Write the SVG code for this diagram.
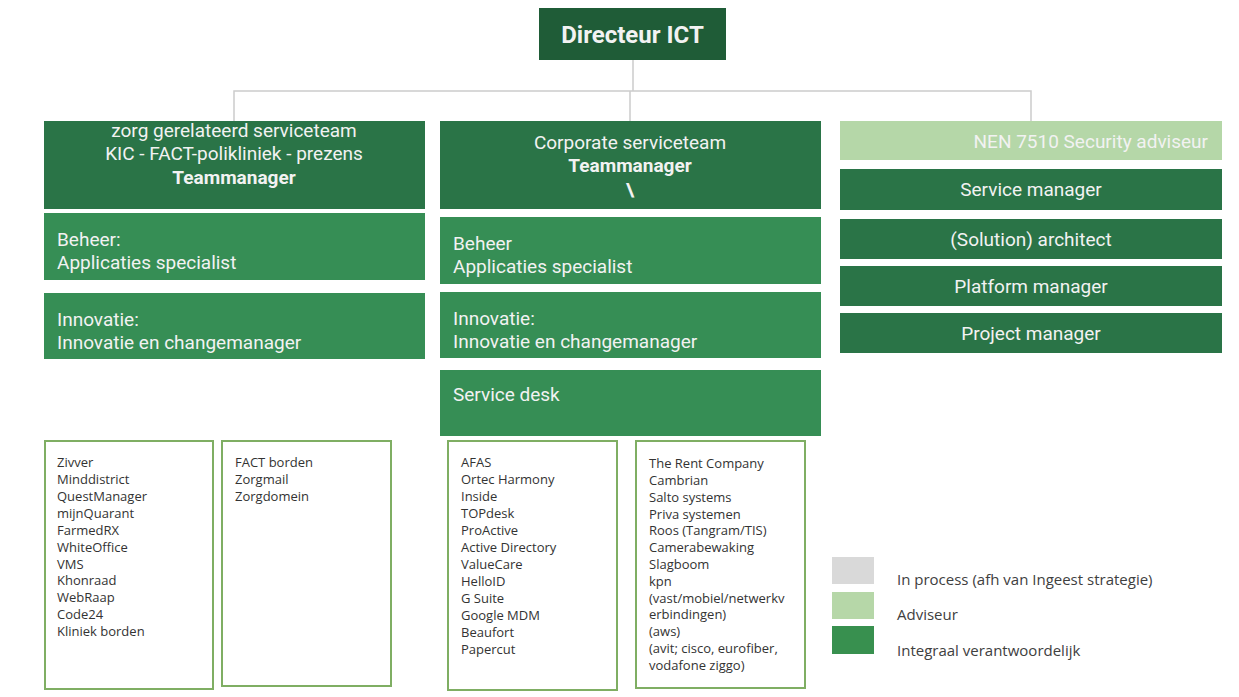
<svg xmlns="http://www.w3.org/2000/svg" width="1239" height="697" viewBox="0 0 1239 697">
<style>
.bg{fill:#ffffff}
.dir{fill:#1f5c37}
.head{fill:#2a7447}
.role{fill:#368e55}
.adv{fill:#b5d7a8}
.t{font-family:Roboto,"Liberation Sans",sans-serif;font-size:19px;fill:#f2f2f2}
.b{font-weight:bold}
.big{font-size:24px}
.list{fill:#ffffff;stroke:#7fae63;stroke-width:2}
.lt{font-family:"Open Sans","DejaVu Sans",sans-serif;font-size:13px;fill:#333333}
.lg{font-family:"Open Sans","Liberation Sans",sans-serif;font-size:15px;fill:#404040}
.conn{stroke:#cccccc;stroke-width:1.5;fill:none}
</style>
<rect class="bg" x="0" y="0" width="1239" height="697"/>
<g id="connectors">
<path class="conn" d="M633 60 V91 M234 121 V91 H1031 V121 M630 91 V121"/>
</g>
<g id="directeur">
<rect class="dir" x="539" y="8" width="187" height="52"/>
<text class="t b big" x="632.5" y="43" text-anchor="middle">Directeur ICT</text>
</g>
<g id="zorg-team">
<rect class="head" x="44" y="121" width="381" height="88"/>
<text class="t" x="234" y="137" text-anchor="middle">zorg gerelateerd serviceteam</text>
<text class="t" x="234" y="160" text-anchor="middle">KIC - FACT-polikliniek - prezens</text>
<text class="t b" x="234" y="184" text-anchor="middle">Teammanager</text>
</g>
<g id="zorg-beheer">
<rect class="role" x="44" y="213" width="381" height="67"/>
<text class="t" x="57" y="246">Beheer:</text>
<text class="t" x="57" y="269">Applicaties specialist</text>
</g>
<g id="zorg-innovatie">
<rect class="role" x="44" y="293" width="381" height="66"/>
<text class="t" x="57" y="326">Innovatie:</text>
<text class="t" x="57" y="349">Innovatie en changemanager</text>
</g>
<g id="corp-team">
<rect class="head" x="440" y="121" width="381" height="88"/>
<text class="t" x="630" y="149" text-anchor="middle">Corporate serviceteam</text>
<text class="t b" x="630" y="172" text-anchor="middle">Teammanager</text>
<text class="t b" x="630" y="196" text-anchor="middle">\</text>
</g>
<g id="corp-beheer">
<rect class="role" x="440" y="217" width="381" height="67"/>
<text class="t" x="453" y="250">Beheer</text>
<text class="t" x="453" y="273">Applicaties specialist</text>
</g>
<g id="corp-innovatie">
<rect class="role" x="440" y="292" width="381" height="66"/>
<text class="t" x="453" y="325">Innovatie:</text>
<text class="t" x="453" y="348">Innovatie en changemanager</text>
</g>
<g id="corp-servicedesk">
<rect class="role" x="440" y="370" width="381" height="66"/>
<text class="t" x="453" y="401">Service desk</text>
</g>
<g id="nen">
<rect class="adv" x="840" y="121" width="382" height="39"/>
<text class="t" x="1208" y="148" text-anchor="end">NEN 7510 Security adviseur</text>
</g>
<g id="service-manager">
<rect class="head" x="840" y="169" width="382" height="41"/>
<text class="t" x="1031" y="196" text-anchor="middle">Service manager</text>
</g>
<g id="architect">
<rect class="head" x="840" y="219" width="382" height="40"/>
<text class="t" x="1031" y="246" text-anchor="middle">(Solution) architect</text>
</g>
<g id="platform-manager">
<rect class="head" x="840" y="266" width="382" height="40"/>
<text class="t" x="1031" y="293" text-anchor="middle">Platform manager</text>
</g>
<g id="project-manager">
<rect class="head" x="840" y="313" width="382" height="40"/>
<text class="t" x="1031" y="340" text-anchor="middle">Project manager</text>
</g>
<g id="list-zorg-1">
<rect class="list" x="45" y="441" width="168" height="248"/>
<text class="lt" x="57" y="467">Zivver</text>
<text class="lt" x="57" y="484">Minddistrict</text>
<text class="lt" x="57" y="501">QuestManager</text>
<text class="lt" x="57" y="518">mijnQuarant</text>
<text class="lt" x="57" y="535">FarmedRX</text>
<text class="lt" x="57" y="552">WhiteOffice</text>
<text class="lt" x="57" y="569">VMS</text>
<text class="lt" x="57" y="585">Khonraad</text>
<text class="lt" x="57" y="602">WebRaap</text>
<text class="lt" x="57" y="619">Code24</text>
<text class="lt" x="57" y="636">Kliniek borden</text>
</g>
<g id="list-zorg-2">
<rect class="list" x="222" y="441" width="169" height="245"/>
<text class="lt" x="235" y="467">FACT borden</text>
<text class="lt" x="235" y="484">Zorgmail</text>
<text class="lt" x="235" y="501">Zorgdomein</text>
</g>
<g id="list-corp-1">
<rect class="list" x="448" y="441" width="169" height="249"/>
<text class="lt" x="461" y="467">AFAS</text>
<text class="lt" x="461" y="484">Ortec Harmony</text>
<text class="lt" x="461" y="501">Inside</text>
<text class="lt" x="461" y="518">TOPdesk</text>
<text class="lt" x="461" y="535">ProActive</text>
<text class="lt" x="461" y="552">Active Directory</text>
<text class="lt" x="461" y="569">ValueCare</text>
<text class="lt" x="461" y="586">HelloID</text>
<text class="lt" x="461" y="603">G Suite</text>
<text class="lt" x="461" y="620">Google MDM</text>
<text class="lt" x="461" y="637">Beaufort</text>
<text class="lt" x="461" y="654">Papercut</text>
</g>
<g id="list-corp-2">
<rect class="list" x="636" y="441" width="169" height="247"/>
<text class="lt" x="649" y="468">The Rent Company</text>
<text class="lt" x="649" y="485">Cambrian</text>
<text class="lt" x="649" y="502">Salto systems</text>
<text class="lt" x="649" y="519">Priva systemen</text>
<text class="lt" x="649" y="535">Roos (Tangram/TIS)</text>
<text class="lt" x="649" y="552">Camerabewaking</text>
<text class="lt" x="649" y="569">Slagboom</text>
<text class="lt" x="649" y="586">kpn</text>
<text class="lt" x="649" y="603">(vast/mobiel/netwerkv</text>
<text class="lt" x="649" y="619">erbindingen)</text>
<text class="lt" x="649" y="636">(aws)</text>
<text class="lt" x="649" y="653">(avit; cisco, eurofiber,</text>
<text class="lt" x="649" y="670">vodafone ziggo)</text>
</g>
<g id="legend">
<rect x="832" y="557" width="42" height="27" fill="#d9d9d9"/>
<rect x="832" y="592" width="42" height="27" fill="#b6d7a8"/>
<rect x="832" y="626" width="42" height="28" fill="#38904f"/>
<text class="lg" x="897" y="585">In process (afh van Ingeest strategie)</text>
<text class="lg" x="897" y="620">Adviseur</text>
<text class="lg" x="897" y="656">Integraal verantwoordelijk</text>
</g>
</svg>
